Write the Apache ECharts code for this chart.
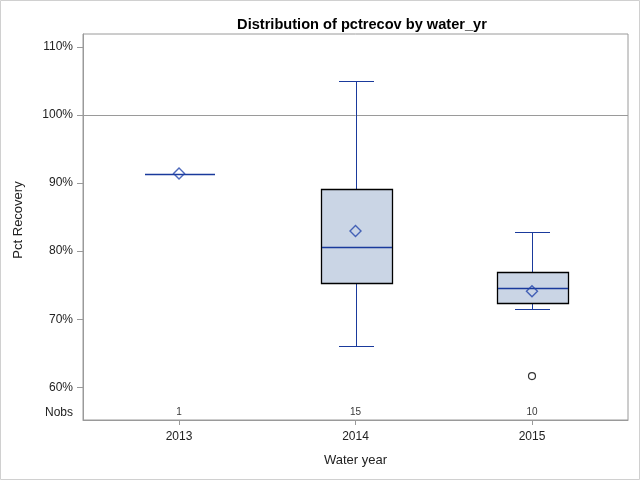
<!DOCTYPE html>
<html>
<head>
<meta charset="utf-8">
<script src="https://cdn.jsdelivr.net/npm/echarts@6/dist/echarts.min.js"></script>
<style>
html,body{margin:0;padding:0;background:#fff;}
#chart{width:640px;height:480px;}
</style>
</head>
<body>
<div id="chart"></div>
<script>
// ---- data ----
const categories = ['2013', '2014', '2015'];
const nobs = [1, 15, 10];
const whiskerLow = [91.4, 66.1, 71.5];
const q1 = [91.4, 75.35, 72.45];
const median = [91.4, 80.65, 74.6];
const q3 = [91.4, 89.2, 76.9];
const whiskerHigh = [91.4, 105.0, 82.8];
const means = [91.4, 82.95, 74.1];
const outliers = [[2, 61.65]];
const yTickValues = [60, 70, 80, 90, 100, 110];
const refLine = 100;
const nobsRowValue = 56.3;

const FONT = '"Liberation Sans", Arial, sans-serif';
const BLUE = '#1a3a9c';
const MEANBLUE = '#2244aa';
const BOXFILL = '#cad5e5';

function px(v) { return Math.round(v) + 0.5; }

function renderBox(params, api) {
  const x = api.value(0);
  const pLo = api.coord([x, api.value(1)]);
  const pQ1 = api.coord([x, api.value(2)]);
  const pMed = api.coord([x, api.value(3)]);
  const pQ3 = api.coord([x, api.value(4)]);
  const pHi = api.coord([x, api.value(5)]);
  const bw = api.size([1, 0])[0] * 0.4;
  const cw = bw / 2;
  const cx = px(pMed[0]);
  const children = [];
  const degenerate = api.value(2) === api.value(4);
  if (!degenerate) {
    children.push({type: 'line', shape: {x1: cx, y1: px(pHi[1]), x2: cx, y2: px(pQ3[1])}, style: {stroke: BLUE, lineWidth: 1}});
    children.push({type: 'line', shape: {x1: cx, y1: px(pQ1[1]), x2: cx, y2: px(pLo[1])}, style: {stroke: BLUE, lineWidth: 1}});
    children.push({type: 'line', shape: {x1: Math.round(cx - cw / 2), y1: px(pHi[1]), x2: Math.round(cx + cw / 2), y2: px(pHi[1])}, style: {stroke: BLUE, lineWidth: 1}});
    children.push({type: 'line', shape: {x1: Math.round(cx - cw / 2), y1: px(pLo[1]), x2: Math.round(cx + cw / 2), y2: px(pLo[1])}, style: {stroke: BLUE, lineWidth: 1}});
    const top = px(pQ3[1]);
    const bot = px(pQ1[1]);
    children.push({type: 'rect', shape: {x: px(cx - bw / 2), y: top, width: Math.round(bw), height: bot - top}, style: {fill: BOXFILL, stroke: '#000', lineWidth: 1.3}});
  }
  children.push({type: 'line', shape: {x1: Math.round(cx - bw / 2) + 1, y1: px(pMed[1]), x2: Math.round(cx + bw / 2), y2: px(pMed[1])}, style: {stroke: BLUE, lineWidth: 1.3}});
  return {type: 'group', children: children};
}

const chart = echarts.init(document.getElementById('chart'), null, {renderer: 'canvas'});
chart.setOption({
  animation: false,
  backgroundColor: '#fff',
  textStyle: {fontFamily: FONT},
  title: {
    text: 'Distribution of pctrecov by water_yr',
    left: 357, top: 12, textAlign: 'center',
    textStyle: {fontFamily: FONT, fontSize: 14.6, fontWeight: 'bold', color: '#000'}
  },
  graphic: [{
    type: 'rect', shape: {x: 0.5, y: 0.5, width: 639, height: 479},
    style: {fill: 'none', stroke: '#d0d0d0', lineWidth: 1}, silent: true, z: 0
  }],
  grid: {left: 83, right: 12, top: 34, bottom: 60, show: true, borderColor: '#9a9a9a', borderWidth: 1, backgroundColor: 'transparent'},
  xAxis: {
    type: 'value', min: -0.544, max: 2.544,
    name: 'Water year', nameLocation: 'middle', nameGap: 34,
    nameTextStyle: {fontFamily: FONT, fontSize: 13, color: '#222'},
    axisLine: {show: true, onZero: false, lineStyle: {color: '#9a9a9a'}},
    axisTick: {show: true, customValues: [0, 1, 2], length: 5, lineStyle: {color: '#9a9a9a'}},
    axisLabel: {show: true, customValues: [0, 1, 2], formatter: v => categories[Math.round(v)], margin: 11, fontSize: 12, fontFamily: FONT, color: '#222'},
    splitLine: {show: false}
  },
  yAxis: {
    type: 'value', min: 55.2, max: 111.9,
    name: 'Pct Recovery', nameLocation: 'middle', nameGap: 58,
    nameTextStyle: {fontFamily: FONT, fontSize: 13, color: '#222', padding: [0, 0, 0, 14]},
    axisLine: {show: true, onZero: false, lineStyle: {color: '#9a9a9a'}},
    axisTick: {show: true, customValues: yTickValues, length: 6, lineStyle: {color: '#9a9a9a'}},
    axisLabel: {show: true, customValues: [nobsRowValue].concat(yTickValues), formatter: v => (v < 58 ? 'Nobs' : v + '%'), margin: 10, fontSize: 12, fontFamily: FONT, color: '#222'},
    splitLine: {show: false}
  },
  series: [
    {
      type: 'custom', name: 'box',
      renderItem: renderBox,
      encode: {x: 0, y: [1, 2, 3, 4, 5]},
      data: categories.map((c, i) => [i, whiskerLow[i], q1[i], median[i], q3[i], whiskerHigh[i]]),
      z: 2,
      markLine: {
        silent: true, symbol: 'none', label: {show: false}, z: 1,
        lineStyle: {color: '#9a9a9a', type: 'solid', width: 1},
        data: [{yAxis: refLine}]
      }
    },
    {
      type: 'scatter', name: 'mean', symbol: 'diamond', symbolSize: [11, 11],
      itemStyle: {color: 'rgba(0,0,0,0)', borderColor: MEANBLUE, borderWidth: 1.4},
      data: categories.map((c, i) => [i, means[i]]), z: 3
    },
    {
      type: 'scatter', name: 'outlier', symbol: 'circle', symbolSize: 7,
      itemStyle: {color: 'rgba(0,0,0,0)', borderColor: '#000', borderWidth: 1.2},
      data: outliers, z: 3
    },
    {
      type: 'scatter', name: 'nobs', symbolSize: 0,
      label: {show: true, position: 'inside', formatter: p => String(nobs[p.dataIndex]), fontSize: 10, fontFamily: FONT, color: '#000', textBorderWidth: 0},
      data: categories.map((c, i) => [i, nobsRowValue]), z: 3
    }
  ]
});
</script>
</body>
</html>
